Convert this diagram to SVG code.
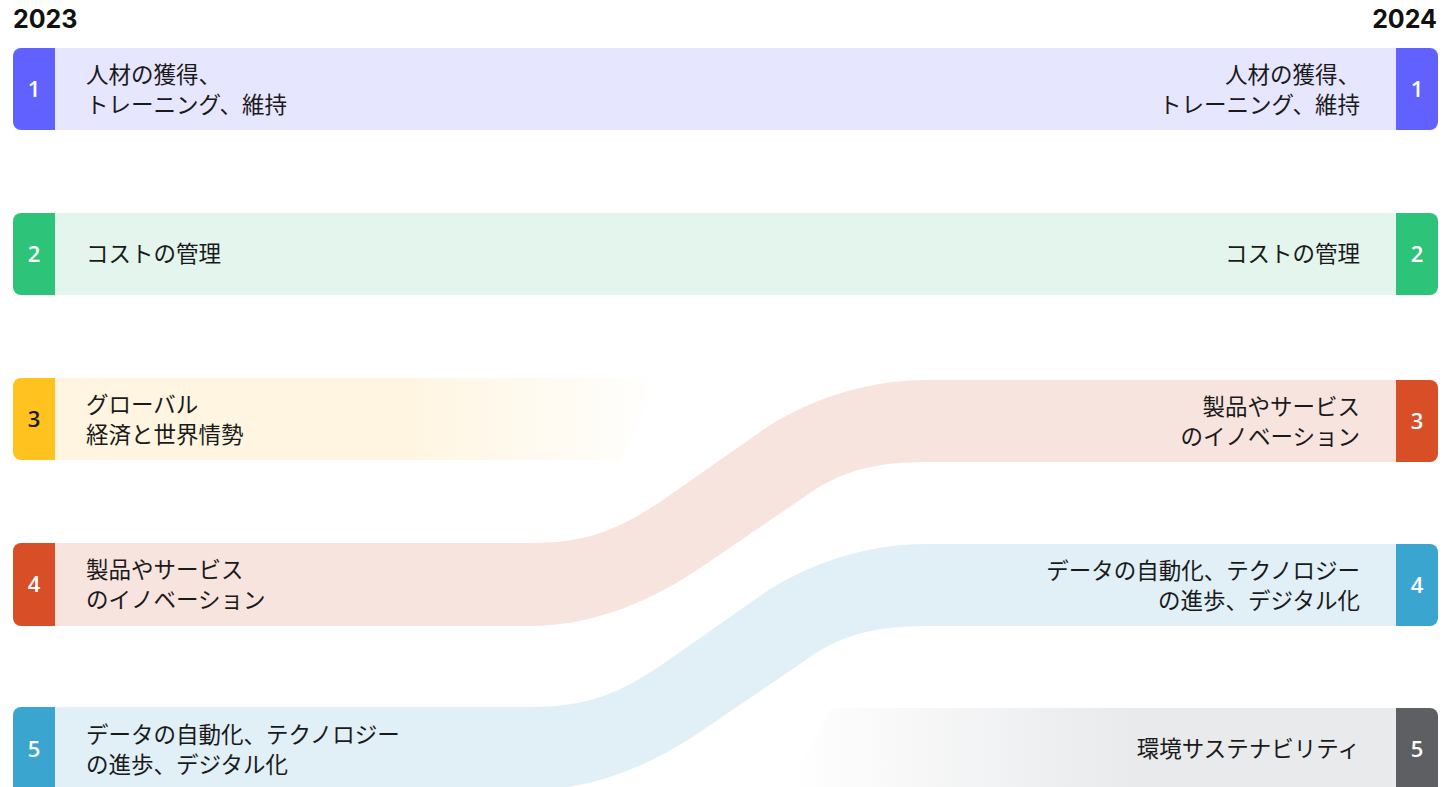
<svg xmlns="http://www.w3.org/2000/svg" width="1443" height="787" viewBox="0 0 1443 787">
<style>
.yr{font-family:Inter,"Noto Sans",sans-serif;font-weight:700;font-size:25px;fill:#111}
.lbl{font-family:"Noto Sans CJK JP","Noto Sans",sans-serif;font-size:22.5px;fill:#1a1a1a}
.r{text-anchor:end}
.num{font-family:"Open Sans","Noto Sans",sans-serif;font-weight:600;font-size:22px;fill:#fff;text-anchor:middle}
</style>
<defs>
<linearGradient id="g3" gradientUnits="userSpaceOnUse" x1="400" y1="0" x2="665" y2="0">
<stop offset="0" stop-color="#FFF5E0"/><stop offset="1" stop-color="#FFF5E0" stop-opacity="0"/>
</linearGradient>
<linearGradient id="g5" gradientUnits="userSpaceOnUse" x1="790" y1="0" x2="1130" y2="0">
<stop offset="0" stop-color="#E9EAEC" stop-opacity="0"/><stop offset="1" stop-color="#E9EAEC"/>
</linearGradient>
<path id="flow" d="M55,543 L530,543 C590,543 620,528 660,502 L760,432 C800,404 860,380 927,380 L1396,380 L1396,462 L927,462 C860,462 830,478 800,500 L700,568 C660,595 600,626 530,626 L55,626 Z"/>
</defs>
<rect width="1443" height="787" fill="#fff"/>
<text class="yr" x="13" y="28">2023</text>
<text class="yr r" x="1437" y="28">2024</text>
<g id="connectors">
<rect x="55" y="48" width="1341" height="82" fill="#E6E6FF"/>
<rect x="55" y="213" width="1341" height="82" fill="#E3F5EC"/>
<path d="M55,378 L663,378 L620,460 L55,460 Z" fill="url(#g3)"/>
<use href="#flow" fill="#F8E4DF"/>
<use href="#flow" transform="translate(0,164)" fill="#E1EFF7"/>
<path d="M831,708 L1396,708 L1396,787 L789,787 Z" fill="url(#g5)"/>
</g>
<g id="left1"><path d="M55,48 V130 H21 A8,8 0 0 1 13,122 V56 A8,8 0 0 1 21,48 Z" fill="#6161FF"/><text class="num" x="34" y="97">1</text><text class="lbl" x="86" y="83">人材の獲得、</text><text class="lbl" x="86" y="113">トレーニング、維持</text></g>
<g id="left2"><path d="M55,213 V295 H21 A8,8 0 0 1 13,287 V221 A8,8 0 0 1 21,213 Z" fill="#2DC479"/><text class="num" x="34" y="262">2</text><text class="lbl" x="86" y="262">コストの管理</text></g>
<g id="left3"><path d="M55,378 V460 H21 A8,8 0 0 1 13,452 V386 A8,8 0 0 1 21,378 Z" fill="#FFC21E"/><text class="num" x="34" y="427" style="fill:#1a1a1a">3</text><text class="lbl" x="86" y="413">グローバル</text><text class="lbl" x="86" y="443">経済と世界情勢</text></g>
<g id="left4"><path d="M55,543 V626 H21 A8,8 0 0 1 13,618 V551 A8,8 0 0 1 21,543 Z" fill="#D84F27"/><text class="num" x="34" y="592">4</text><text class="lbl" x="86" y="578">製品やサービス</text><text class="lbl" x="86" y="608">のイノベーション</text></g>
<g id="left5"><path d="M55,707 V795 H21 A8,8 0 0 1 13,787 V715 A8,8 0 0 1 21,707 Z" fill="#3AA6CF"/><text class="num" x="34" y="757">5</text><text class="lbl" x="86" y="743">データの自動化、テクノロジー</text><text class="lbl" x="86" y="773">の進歩、デジタル化</text></g>
<g id="right1"><path d="M1396,48 H1430 A8,8 0 0 1 1438,56 V122 A8,8 0 0 1 1430,130 H1396 Z" fill="#6161FF"/><text class="num" x="1417" y="97">1</text><text class="lbl r" x="1360" y="83">人材の獲得、</text><text class="lbl r" x="1360" y="113">トレーニング、維持</text></g>
<g id="right2"><path d="M1396,213 H1430 A8,8 0 0 1 1438,221 V287 A8,8 0 0 1 1430,295 H1396 Z" fill="#2DC479"/><text class="num" x="1417" y="262">2</text><text class="lbl r" x="1360" y="262">コストの管理</text></g>
<g id="right3"><path d="M1396,380 H1430 A8,8 0 0 1 1438,388 V454 A8,8 0 0 1 1430,462 H1396 Z" fill="#D84F27"/><text class="num" x="1417" y="429">3</text><text class="lbl r" x="1360" y="415">製品やサービス</text><text class="lbl r" x="1360" y="445">のイノベーション</text></g>
<g id="right4"><path d="M1396,544 H1430 A8,8 0 0 1 1438,552 V618 A8,8 0 0 1 1430,626 H1396 Z" fill="#3AA6CF"/><text class="num" x="1417" y="593">4</text><text class="lbl r" x="1360" y="579">データの自動化、テクノロジー</text><text class="lbl r" x="1360" y="609">の進歩、デジタル化</text></g>
<g id="right5"><path d="M1396,708 H1430 A8,8 0 0 1 1438,716 V787 A8,8 0 0 1 1430,795 H1396 Z" fill="#5E5F62"/><text class="num" x="1417" y="757">5</text><text class="lbl r" x="1360" y="757">環境サステナビリティ</text></g>
</svg>
